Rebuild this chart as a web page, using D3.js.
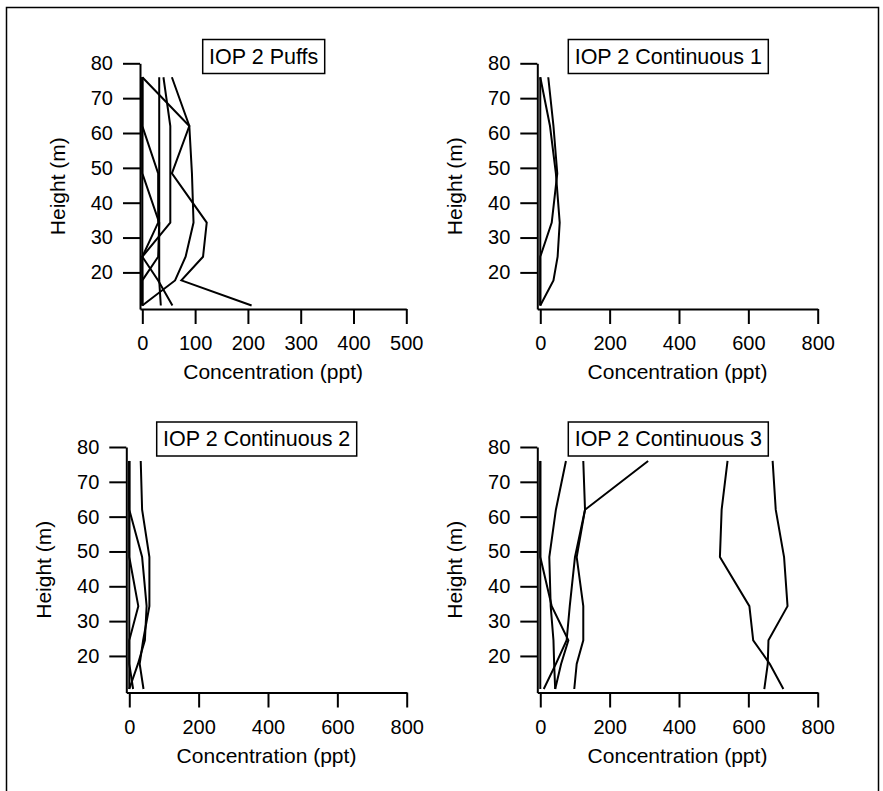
<!DOCTYPE html>
<html>
<head>
<meta charset="utf-8">
<script src="https://cdn.jsdelivr.net/npm/d3@7"></script>
<style>
  body { margin: 0; background: #fff; }
  svg text { font-family: "Liberation Sans", Arial, sans-serif; fill: #000; }
</style>
</head>
<body>
<div id="chart"></div>
<script>
// measurement heights (m), shared by every profile
const heights = [10.5, 17.7, 24.5, 34.3, 48.4, 62, 76];

// concentration (ppt) at each height, one array per profile
const puffsSeries = [
  [207, 74, 115, 122, 56, 89, 0],
  [0, 62, 82, 97, 94, 89, 56],
  [0, 0, 0, 53, 53, 53, 40],
  [35, 32, 32, 32, 32, 32, 32],
  [57, 30, 0, 30, 30, 0, 0],
  [0, 0, 30, 32, 0, 0, 0],
  [0, 0, 0, 0, 0, 0, 0]
];
const cont1Series = [
  [0, 38, 50, 56, 45, 28, 0],
  [0, 0, 0, 33, 49, 38, 23],
  [0, 0, 0, 0, 0, 0, 0]
];
const cont2Series = [
  [41, 30, 40, 58, 58, 37, 33],
  [0, 25, 45, 50, 37, 0, 0],
  [11, 0, 0, 26, 0, 0, 0],
  [0, 0, 0, 0, 0, 0, 0]
];
const cont3Series = [
  [701, 662, 614, 603, 518, 523, 540],
  [646, 656, 658, 713, 703, 679, 670],
  [98, 105, 124, 124, 105, 129, 311],
  [10, 45, 76, 85, 100, 129, 124],
  [43, 40, 38, 30, 26, 45, 74],
  [43, 60, 81, 33, 0, 0, 0],
  [0, 0, 0, 0, 0, 0, 0]
];

const titles = ["IOP 2 Puffs", "IOP 2 Continuous 1", "IOP 2 Continuous 2", "IOP 2 Continuous 3"];
const puffsTicks = [0, 100, 200, 300, 400, 500];
const contTicks = [0, 200, 400, 600, 800];
const heightTicks = [20, 30, 40, 50, 60, 70, 80];

const width = 883, height = 791;

// panel layout (pixel boxes for the axes and the title frames)
const panels = [
  { series: puffsSeries, ticks: puffsTicks, xMin: -4.4, xMax: 500, left: 140, right: 406.3, top: 63.3, bottom: 309, box: [202.7, 39.5, 122] },
  { series: cont1Series, ticks: contTicks, xMin: -8.6, xMax: 800, left: 537.3, right: 817.7, top: 63.3, bottom: 309, box: [568.3, 39.5, 200] },
  { series: cont2Series, ticks: contTicks, xMin: -8.6, xMax: 800, left: 126.3, right: 406.7, top: 447, bottom: 692.5, box: [156.7, 422, 200] },
  { series: cont3Series, ticks: contTicks, xMin: -8.6, xMax: 800, left: 537.3, right: 817.7, top: 447, bottom: 692.5, box: [568.3, 422, 200] }
];

const svg = d3.select("#chart").append("svg")
  .attr("width", width)
  .attr("height", height);

// outer frame
svg.append("rect")
  .attr("x", 6.5).attr("y", 7.5)
  .attr("width", 872).attr("height", 800)
  .attr("fill", "none").attr("stroke", "#000").attr("stroke-width", 1.5);

panels.forEach((p, i) => {
  const x = d3.scaleLinear().domain([p.xMin, p.xMax]).range([p.left, p.right]);
  const y = d3.scaleLinear().domain([9.5, 80]).range([p.bottom, p.top]);
  const g = svg.append("g");

  const line = d3.line()
    .x(d => x(d[0]))
    .y(d => y(d[1]));

  p.series.forEach(s => {
    g.append("path")
      .datum(s.map((v, k) => [v, heights[k]]))
      .attr("d", line)
      .attr("fill", "none")
      .attr("stroke", "#000")
      .attr("stroke-width", 2)
      .attr("stroke-linejoin", "miter");
  });

  // x axis
  const xAxis = g.append("g")
    .attr("transform", "translate(0," + p.bottom + ")")
    .call(d3.axisBottom(x).tickValues(p.ticks).tickSizeInner(15).tickSizeOuter(0).tickPadding(12));
  // y axis
  const yAxis = g.append("g")
    .attr("transform", "translate(" + p.left + ",0)")
    .call(d3.axisLeft(y).tickValues(heightTicks).tickSizeInner(17).tickSizeOuter(0).tickPadding(10));

  [xAxis, yAxis].forEach(a => {
    a.select(".domain").attr("stroke", "#000").attr("stroke-width", 2);
    a.selectAll(".tick line").attr("stroke", "#000").attr("stroke-width", 2);
    a.selectAll(".tick text").attr("font-size", "20px").attr("font-family", "Liberation Sans, Arial, sans-serif").attr("fill", "#000");
  });

  // axis titles
  g.append("text")
    .attr("x", (p.left + p.right) / 2)
    .attr("y", p.bottom + 70)
    .attr("text-anchor", "middle")
    .attr("font-size", "21px")
    .text("Concentration (ppt)");

  g.append("text")
    .attr("transform", "translate(" + (p.left - 75) + "," + ((p.top + p.bottom) / 2) + ") rotate(-90)")
    .attr("text-anchor", "middle")
    .attr("font-size", "21px")
    .text("Height (m)");

  // boxed panel title
  const [bx, by, bw] = p.box;
  g.append("rect")
    .attr("x", bx).attr("y", by)
    .attr("width", bw).attr("height", 34)
    .attr("fill", "#fff").attr("stroke", "#000").attr("stroke-width", 1.5);
  g.append("text")
    .attr("x", bx + bw / 2)
    .attr("y", by + 24)
    .attr("text-anchor", "middle")
    .attr("font-size", "21.5px")
    .text(titles[i]);
});
</script>
</body>
</html>
